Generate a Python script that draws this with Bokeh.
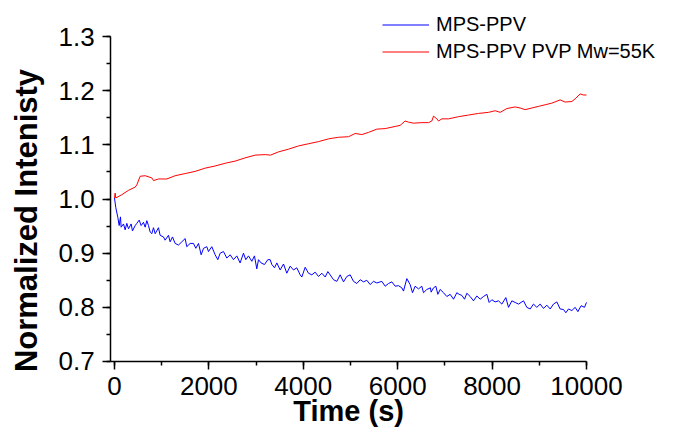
import math
from bokeh.plotting import figure
from bokeh.models import Range1d, Legend, LegendItem, SingleIntervalTicker, NumeralTickFormatter, Label
from bokeh.embed import file_html
from bokeh.resources import INLINE

# ---- data ----
red_t = [0, 14, 28, 155, 297, 438, 473, 544, 650, 791, 826, 932, 1109, 1285, 1497, 1709,
         1921, 2133, 2345, 2556, 2768, 2980, 3192, 3305, 3475, 3687, 3899, 4110, 4322, 4534,
         4746, 4958, 5099, 5240, 5382, 5558, 5735, 5947, 6052, 6158, 6229, 6335, 6511, 6653,
         6724, 6759, 6830, 6865, 6935, 7077, 7289, 7500, 7712, 7924, 8065, 8171, 8313, 8489,
         8595, 8701, 8842, 8983, 9125, 9266, 9442, 9548, 9690, 9760, 9866, 9937, 10000]
red_v = [1.002, 1.011, 1.002, 1.008, 1.016, 1.022, 1.026, 1.042, 1.043, 1.039, 1.034, 1.037,
         1.037, 1.043, 1.047, 1.051, 1.057, 1.061, 1.066, 1.070, 1.076, 1.081, 1.082, 1.081,
         1.087, 1.092, 1.098, 1.102, 1.106, 1.111, 1.114, 1.115, 1.121, 1.119, 1.123, 1.129,
         1.130, 1.134, 1.136, 1.144, 1.142, 1.140, 1.141, 1.141, 1.144, 1.153, 1.148, 1.144,
         1.148, 1.148, 1.152, 1.155, 1.158, 1.160, 1.163, 1.160, 1.167, 1.170, 1.168, 1.165,
         1.168, 1.171, 1.174, 1.177, 1.183, 1.179, 1.180, 1.185, 1.194, 1.192, 1.192]

blue_t = [0, 28, 71, 99, 127, 141, 191, 226, 261, 297, 353, 381, 438, 473, 523, 565, 614,
          650, 685, 720, 756, 791, 826, 862, 932, 967, 1038, 1073, 1144, 1179, 1229, 1285,
          1356, 1427, 1497, 1532, 1603, 1674, 1723, 1780, 1836, 1886, 1956, 1991, 2062, 2133,
          2189, 2239, 2309, 2380, 2451, 2521, 2592, 2662, 2733, 2782, 2839, 2910, 2966, 3015,
          3051, 3107, 3178, 3248, 3298, 3334, 3390, 3440, 3510, 3581, 3651, 3722, 3793, 3863,
          3934, 3969, 4040, 4110, 4181, 4252, 4322, 4393, 4464, 4520, 4569, 4640, 4711, 4781,
          4852, 4923, 4993, 5064, 5134, 5205, 5276, 5346, 5417, 5487, 5558, 5664, 5735, 5805,
          5876, 5947, 6017, 6088, 6123, 6194, 6264, 6314, 6370, 6441, 6511, 6547, 6617, 6695,
          6709, 6759, 6808, 6851, 6900, 6971, 7041, 7112, 7183, 7253, 7303, 7359, 7416, 7465,
          7536, 7606, 7677, 7748, 7818, 7889, 7938, 7995, 8065, 8136, 8207, 8291, 8348, 8419,
          8489, 8560, 8666, 8736, 8807, 8877, 8948, 9019, 9089, 9160, 9231, 9301, 9372, 9442,
          9513, 9563, 9619, 9690, 9760, 9817, 9887, 9958, 10000]
blue_v = [1.002, 0.984, 0.966, 0.951, 0.967, 0.948, 0.954, 0.943, 0.955, 0.945, 0.954, 0.941,
          0.951, 0.955, 0.961, 0.951, 0.957, 0.948, 0.960, 0.951, 0.939, 0.936, 0.947, 0.936,
          0.947, 0.933, 0.930, 0.924, 0.933, 0.921, 0.930, 0.918, 0.915, 0.921, 0.927, 0.912,
          0.918, 0.918, 0.909, 0.918, 0.897, 0.909, 0.912, 0.903, 0.912, 0.897, 0.888, 0.900,
          0.903, 0.891, 0.897, 0.888, 0.895, 0.882, 0.900, 0.888, 0.895, 0.885, 0.895, 0.871,
          0.888, 0.882, 0.879, 0.888, 0.888, 0.879, 0.873, 0.882, 0.869, 0.880, 0.863, 0.876,
          0.869, 0.873, 0.860, 0.856, 0.874, 0.863, 0.860, 0.865, 0.857, 0.863, 0.856, 0.866,
          0.860, 0.851, 0.848, 0.860, 0.847, 0.857, 0.860, 0.848, 0.844, 0.851, 0.847, 0.850,
          0.842, 0.848, 0.845, 0.848, 0.839, 0.844, 0.847, 0.839, 0.840, 0.836, 0.830, 0.853,
          0.842, 0.827, 0.839, 0.834, 0.839, 0.827, 0.833, 0.836, 0.828, 0.836, 0.839, 0.824,
          0.833, 0.827, 0.820, 0.824, 0.815, 0.827, 0.824, 0.822, 0.815, 0.826, 0.820, 0.812,
          0.821, 0.815, 0.820, 0.824, 0.809, 0.814, 0.810, 0.812, 0.806, 0.818, 0.800, 0.812,
          0.809, 0.806, 0.812, 0.800, 0.797, 0.806, 0.800, 0.806, 0.798, 0.804, 0.797, 0.806,
          0.810, 0.797, 0.796, 0.790, 0.797, 0.794, 0.800, 0.792, 0.803, 0.800, 0.809]

series_labels = ["MPS-PPV", "MPS-PPV PVP Mw=55K"]
x_title = "Time (s)"
y_title = "Normalized Intenisty"
x_bounds = (-80, 10000)
y_bounds = (0.7, 1.3)

FONT = "Liberation Sans"

# The frame fills the whole canvas; the axes are drawn at fixed locations so that
# the legend and the titles (which lie outside the axes box) are not clipped.
p = figure(width=659, height=428, output_backend="svg", toolbar_location=None,
           x_range=Range1d(-2415, 11547), y_range=Range1d(0.5763, 1.3665),
           min_border=0)
p.outline_line_color = None
p.grid.visible = False
p.background_fill_color = "white"

r_blue = p.line(blue_t, blue_v, line_color="#0000FF", line_width=1)
r_red = p.line(red_t, red_v, line_color="#FF0000", line_width=1)

xa = p.xaxis[0]
xa.ticker = SingleIntervalTicker(interval=2000, num_minor_ticks=2)
xa.formatter = NumeralTickFormatter(format="0")
xa.fixed_location = y_bounds[0]
xa.bounds = x_bounds
ya = p.yaxis[0]
ya.ticker = SingleIntervalTicker(interval=0.1, num_minor_ticks=2)
ya.formatter = NumeralTickFormatter(format="0.0")
ya.fixed_location = x_bounds[0]
ya.bounds = y_bounds

for ax in (xa, ya):
    ax.axis_line_width = 1.5
    ax.axis_line_color = "black"
    ax.major_tick_line_width = 1.5
    ax.minor_tick_line_width = 1.5
    ax.major_tick_line_color = "black"
    ax.minor_tick_line_color = "black"
    ax.major_tick_in = 0
    ax.minor_tick_in = 0
    ax.major_tick_out = 8
    ax.minor_tick_out = 4
    ax.major_label_text_font = FONT
    ax.major_label_text_font_size = "26px"
    ax.major_label_text_color = "black"
xa.major_label_standoff = 8
ya.major_label_standoff = 8

# axis titles
p.add_layout(Label(x=4960, y=0.6077, text=x_title, text_align="center",
                   text_baseline="alphabetic", text_font=FONT, text_font_size="29px",
                   text_font_style="bold", text_color="black"))
p.add_layout(Label(x=-1865, y=0.9603, text=y_title, angle=math.pi / 2,
                   text_align="center", text_baseline="alphabetic", text_font=FONT,
                   text_font_size="31px", text_font_style="bold", text_color="black"))

legend = Legend(items=[LegendItem(label=series_labels[0], renderers=[r_blue]),
                       LegendItem(label=series_labels[1], renderers=[r_red])],
                location=(382, 363), orientation="vertical",
                border_line_color=None, background_fill_alpha=0,
                padding=0, margin=0, spacing=0,
                glyph_width=47, glyph_height=27, label_height=27,
                label_standoff=7, label_text_font=FONT, label_text_font_size="20px",
                label_text_color="black")
p.add_layout(legend, "center")

open("out.html", "w").write(file_html(p, INLINE))
